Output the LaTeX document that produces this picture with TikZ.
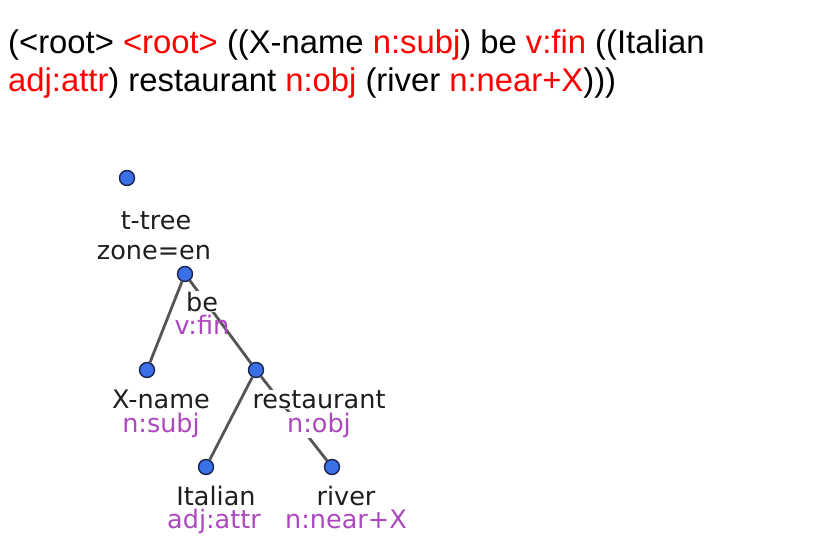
\documentclass[tikz,border=0pt]{standalone}
\usepackage{fontspec}
\setmainfont{Liberation Sans}
\newfontfamily\treefont{DejaVu Sans}
\definecolor{vblue}{RGB}{60,112,230}
\definecolor{vline}{RGB}{25,35,75}
\definecolor{edgegray}{RGB}{85,85,85}
\definecolor{funcol}{RGB}{172,72,190}
\definecolor{lemcol}{RGB}{30,30,30}

\begin{document}
\begin{tikzpicture}[x=1pt,y=-1pt]
    \tikzstyle{vert}=[circle,draw=vline,fill=vblue,line width=1.4pt,minimum size=15pt,inner sep=0pt]
    \tikzstyle{edge}=[draw=edgegray,line width=2.8pt]
    \tikzstyle{lemma}=[anchor=base,inner sep=0.5pt,text=lemcol,font=\treefont\fontsize{25.5}{28}\selectfont]
    \tikzstyle{func}=[anchor=base,inner sep=0.5pt,text=funcol,font=\treefont\fontsize{25.5}{28}\selectfont]
    \tikzstyle{header}=[anchor=base west,inner sep=0pt,font=\fontsize{32.8}{38}\selectfont]

    \useasboundingbox (0,0) rectangle (828,542);

    \node[header] (line1) at (8,53)
    {(<root> \textcolor{red}{<root>} ((X-name \textcolor{red}{n:subj}) be \textcolor{red}{v:fin} ((Italian};
    \node[header] (line2) at (8,91)
    {\textcolor{red}{adj:attr}) restaurant \textcolor{red}{n:obj} (river \textcolor{red}{n:near+X})))};

    \node[vert] (root) at (127,178) {};
    \node[vert] (be) at (185,274) {};
    \node[vert] (xname) at (147,370) {};
    \node[vert] (rest) at (256,370) {};
    \node[vert] (ital) at (206,467) {};
    \node[vert] (river) at (332,467) {};

    \draw[edge] (be) -- (xname);
    \draw[edge] (be) -- (rest);
    \draw[edge] (rest) -- (ital);
    \draw[edge] (rest) -- (river);

    \node[lemma] (troot) at (156,229) {t-tree};
    \node[lemma] (zroot) at (154,259) {zone=en};

    \node[lemma,fill=white] (tbe) at (202,311) {be};
    \node[func] (fbe) at (202,334) {v:fin};

    \node[lemma] (txname) at (161,408) {X-name};
    \node[func] (fxname) at (161,432) {n:subj};

    \node[lemma,fill=white] (trest) at (319,408) {restaurant};
    \node[func,fill=white] (frest) at (319,432) {n:obj};

    \node[lemma] (tital) at (216,505) {Italian};
    \node[func] (fital) at (214,528) {adj:attr};

    \node[lemma] (triver) at (346,505) {river};
    \node[func] (friver) at (346,528) {n:near+X};
\end{tikzpicture}
\end{document}
